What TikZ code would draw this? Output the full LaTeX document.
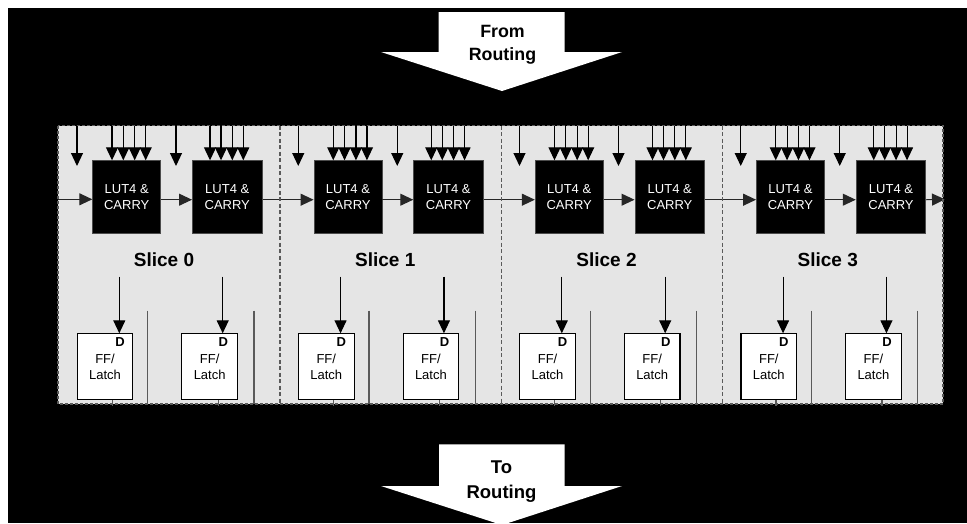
\documentclass[tikz,border=0pt]{standalone}
\usepackage{fontspec}
\setmainfont{Liberation Sans}
\usetikzlibrary{arrows.meta}
\definecolor{slicegrey}{HTML}{E5E5E5}
\definecolor{borderdark}{HTML}{5A5A5A}
\begin{document}
\begin{tikzpicture}[x=1pt,y=-1pt,
  lutbox/.style={draw=black!70, line width=0.8pt, fill=black, text=white,
    minimum width=68pt, minimum height=73pt, inner sep=0pt, align=center,
    font=\fontsize{13}{15.4}\selectfont, anchor=north west},
  ffbox/.style={draw=black, line width=1.1pt, fill=white,
    minimum width=55.6pt, minimum height=65.7pt, inner sep=0pt, align=center,
    font=\fontsize{13}{16.4}\selectfont, anchor=north west},
  sig/.style={draw=black, line width=1.1pt, -{Triangle[width=12pt,length=13pt]}},
  carry/.style={draw=black!85, line width=1.1pt, -{Triangle[width=12pt,length=13pt]}},
  plainline/.style={draw=borderdark, line width=1.3pt},
  dlabel/.style={font=\bfseries\fontsize{13}{15}\selectfont, anchor=base, inner sep=0pt},
  slicelabel/.style={font=\bfseries\fontsize{19}{22}\selectfont, anchor=base, inner sep=0pt},
  toptxt/.style={font=\bfseries\fontsize{17.8}{21}\selectfont, anchor=base, inner sep=0pt},
  bottxt/.style={font=\bfseries\fontsize{18.5}{22}\selectfont, anchor=base, inner sep=0pt},
  bigarrow/.style={fill=white}
]
\useasboundingbox (0,0) rectangle (967,523);
\fill[white] (0,0) rectangle (967,523);
\fill[black] (8,8) rectangle (967,523);

% routing arrows
\fill[bigarrow] (438.5,12) -- (564.5,12) -- (564.5,52) -- (622,52) -- (502,91)
  -- (381,52) -- (438.5,52) -- cycle;
\node[toptxt] (fromA) at (502.5,37.7) {From};
\node[toptxt] (fromB) at (502.5,60.7) {Routing};
\fill[bigarrow] (439,444.3) -- (564.5,444.3) -- (564.5,486) -- (622,486) -- (502,525)
  -- (381,486) -- (439,486) -- cycle;
\node[bottxt] (toA) at (501.5,473.3) {To};
\node[bottxt] (toB) at (501.5,498.3) {Routing};

% grey slice region
\fill[slicegrey] (58,125.7) rectangle (943,404);

\foreach \i [evaluate=\i as \s using 58+221.25*\i] in {0,1,2,3} {
  % LUT boxes
  \node[lutbox] (l\i a) at (\s+34.3,160.3) {LUT4 \&\\CARRY};
  \node[lutbox, minimum width=69.7pt] (l\i b) at (\s+134,160.3) {LUT4 \&\\CARRY};
  % single top arrows
  \draw[sig] (\s+19,125.7) -- (\s+19,166);
  \draw[sig] (\s+118,125.7) -- (\s+118,166);
  % four inputs per LUT
  \foreach \d in {54,65.3,76.7,87.7} {
    \draw[sig] (\s+\d,125.7) -- (\s+\d,160.3);
  }
  \foreach \d in {152,163,174.3,185.3} {
    \draw[sig] (\s+\d,125.7) -- (\s+\d,160.3);
  }
  % carry between LUTs in slice
  \draw[carry] ([yshift=-2.5pt]l\i a.east) -- ([yshift=-2.5pt]l\i b.west);
  % slice label
  \node[slicelabel] (sl\i) at (\s+106,266) {Slice \i};
  % FF boxes
  \node[ffbox] (f\i a) at (\s+18.7,333.3) {FF/\\Latch};
  \node[ffbox] (f\i b) at (\s+123.3,333.3) {FF/\\Latch};
  \node[dlabel] (d\i a) at (\s+62,346.7) {D};
  \node[dlabel] (d\i b) at (\s+165.4,346.7) {D};
  \draw[sig] (\s+61.3,276.7) -- (\s+61.3,333.3);
  \draw[sig] (\s+164.7,276.7) -- (\s+164.7,333.3);
  % plain lines
  \draw[plainline] (\s+89.7,310.7) -- (\s+89.7,404);
  \draw[plainline] (\s+196,310.7) -- (\s+196,404);
  % FF outputs
  \draw[line width=1.1pt, borderdark] ([xshift=7.2pt]f\i a.south) -- ++(0,5.5);
  \draw[line width=1.1pt, borderdark] ([xshift=8.6pt]f\i b.south) -- ++(0,5.5);
}

% carry chain between slices
\coordinate (cin) at (58,199.3);
\coordinate (cout) at (945,199.3);
\draw[carry] (cin) -- (cin -| l0a.west);
\draw[carry] ([yshift=-2.5pt]l0b.east) -- ([yshift=-2.5pt]l1a.west);
\draw[carry] ([yshift=-2.5pt]l1b.east) -- ([yshift=-2.5pt]l2a.west);
\draw[carry] ([yshift=-2.5pt]l2b.east) -- ([yshift=-2.5pt]l3a.west);
\draw[carry] ([yshift=-2.5pt]l3b.east) -- (cout);

% slice dividers
\foreach \x in {280,501.25,722.5} {
  \draw[borderdark, line width=1.1pt, dash pattern=on 4pt off 2.5pt] (\x,125.7) -- (\x,404);
}
% dashed border
\draw[borderdark, line width=1.1pt, dash pattern=on 3pt off 2pt] (58,125.7) rectangle (943,404);
\end{tikzpicture}
\end{document}
